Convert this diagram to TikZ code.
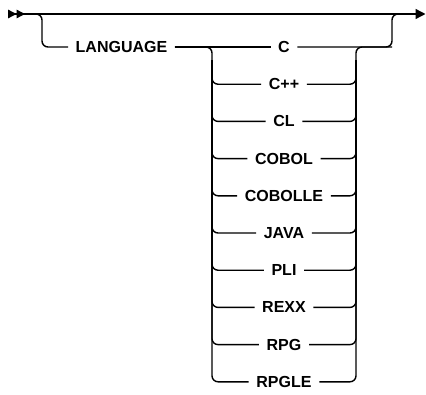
\documentclass[tikz,border=0pt]{standalone}
\usepackage{fontspec}
\setmainfont{Liberation Sans}
\usetikzlibrary{arrows.meta}

\begin{document}
\begin{tikzpicture}[
  x=1pt, y=-1pt, line width=1.4pt,
  kw/.style={font=\bfseries\fontsize{16}{19}\selectfont, inner xsep=7pt, inner ysep=0pt},
  rail/.style={draw=black, line width=1.4pt, rounded corners=6pt},
]
\useasboundingbox (0,0) rectangle (426,394);

%% Main line
\coordinate (in)  at (8,14);
\coordinate (out) at (425.5,14);
\draw[rail, {Triangle[reversed,length=8.5pt,width=8.5pt]Triangle[reversed,length=8.5pt,width=8.5pt]}-{Triangle[length=10pt,width=10pt]}]
  (in) -- (out);

%% Optional LANGUAGE branch
\coordinate (jl)  at (42,14);
\coordinate (jlb) at (42,47);
\node[kw] (lang) at (121.5,47) {LANGUAGE};
\draw[rail] (in) -- (jl) -- (jlb) -- (lang.west);

%% Alternatives
\foreach \txt [count=\i] in {C,C++,CL,COBOL,COBOLLE,JAVA,PLI,REXX,RPG,RPGLE} {
  \node[kw] (k\i) at (284,{47+(\i-1)*37.2}) {\txt};
  \coordinate (lv\i) at (212,{47+(\i-1)*37.2});
  \coordinate (rv\i) at (356,{47+(\i-1)*37.2});
}
\coordinate (lvt) at (212,60);
\coordinate (rvt) at (356,60);

%% Right join back to main line
\coordinate (jr)  at (392,47);
\coordinate (jrt) at (392,14);
\coordinate (jre) at (402,14);

%% First choice, straight through
\draw[rail] (lang.east) -- (k1.west);
\draw[rail] (k1.east) -- (jr) -- (jrt) -- (jre);

%% Left and right rails of the stack
\draw[rail] (lang.east) -- (lv1) -- (lv10) -- (k10.west);
\draw[rail] (k10.east) -- (rv10) -- (rv1) -- (jr);
\foreach \i in {2,...,9} {
  \draw[rail] (lvt) -- (lv\i) -- (k\i.west);
  \draw[rail] (k\i.east) -- (rv\i) -- (rvt);
}

\end{tikzpicture}
\end{document}
